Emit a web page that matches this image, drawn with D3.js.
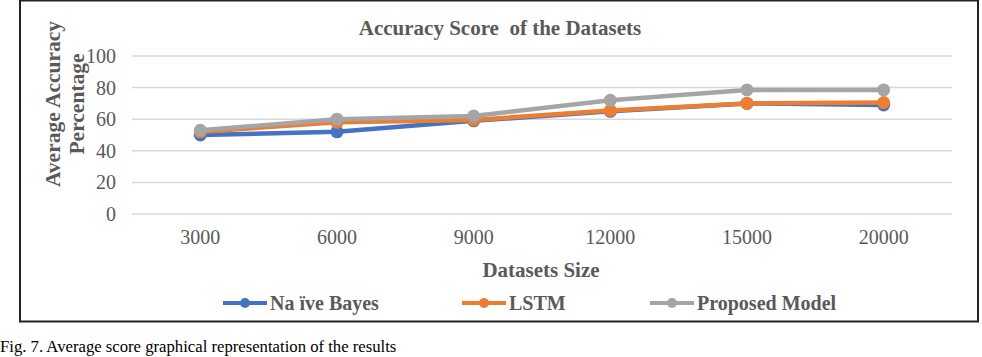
<!DOCTYPE html>
<html lang="en">
<head>
    <meta charset="UTF-8">
    <title>Accuracy Score of the Datasets</title>
    <script src="https://d3js.org/d3.v7.min.js"></script>
    <style>
        body { margin: 0; background: #fff; }
        svg { display: block; }
        svg text { font-family: "Liberation Serif", "Times New Roman", serif; }
    </style>
</head>
<body>
    <svg class="chart" width="982" height="357"></svg>
    <script>
    // 資料
    const sizes = ["3000", "6000", "9000", "12000", "15000", "20000"]
    const naiveBayes = [50, 52, 59, 65, 70, 69]
    const lstm = [52, 58, 59.5, 65.5, 70, 70.5]
    const proposed = [53, 60, 62, 72, 78.5, 78.5]
    const yTicks = [0, 20, 40, 60, 80, 100]

    const series = [
        { name: "Na ïve Bayes", values: naiveBayes, color: "#4472C4" },
        { name: "LSTM", values: lstm, color: "#ED7D31" },
        { name: "Proposed Model", values: proposed, color: "#A5A5A5" }
    ]

    const svg = d3.select('.chart')
    const textColor = "#595959"

    // 外框
    svg.append('rect')
        .attr('x', 20).attr('y', 0.5)
        .attr('width', 958).attr('height', 321)
        .attr('fill', 'none')
        .attr('stroke', '#222')
        .attr('stroke-width', 2)

    const x = d3.scaleBand().domain(sizes).range([132, 952])
    const y = d3.scaleLinear().domain([0, 100]).range([214, 56])

    // 格線
    svg.append('g')
        .selectAll('line')
        .data(yTicks)
        .enter()
        .append('line')
        .attr('x1', 132).attr('x2', 952)
        .attr('y1', d => y(d)).attr('y2', d => y(d))
        .attr('stroke', '#D9D9D9')
        .attr('stroke-width', 1.5)

    // y 軸
    const yAxis = svg.append('g')
        .attr('transform', 'translate(116,0)')
        .call(d3.axisLeft(y).tickValues(yTicks).tickSize(0).tickPadding(0))
    yAxis.select('.domain').remove()
    yAxis.selectAll('text')
        .attr('fill', textColor)
        .style('font-size', '20px')

    // x 軸
    const xAxis = svg.append('g')
        .attr('transform', 'translate(0,230)')
        .call(d3.axisBottom(x).tickSize(0).tickPadding(0))
    xAxis.select('.domain').remove()
    xAxis.selectAll('text')
        .attr('fill', textColor)
        .style('font-size', '20px')

    // 線與點
    const line = d3.line()
        .x((d, i) => x(sizes[i]) + x.bandwidth() / 2)
        .y(d => y(d))

    series.forEach(s => {
        svg.append('path')
            .datum(s.values)
            .attr('d', line)
            .attr('fill', 'none')
            .attr('stroke', s.color)
            .attr('stroke-width', 4.5)
            .attr('stroke-linejoin', 'round')
        svg.append('g')
            .selectAll('circle')
            .data(s.values)
            .enter()
            .append('circle')
            .attr('cx', (d, i) => x(sizes[i]) + x.bandwidth() / 2)
            .attr('cy', d => y(d))
            .attr('r', 6.5)
            .attr('fill', s.color)
    })

    // 標題
    svg.append('text')
        .attr('x', 500).attr('y', 35)
        .attr('text-anchor', 'middle')
        .attr('fill', textColor)
        .style('font-size', '21px')
        .style('font-weight', 'bold')
        .text('Accuracy Score\u00a0 of the Datasets')

    svg.append('text')
        .attr('x', 541).attr('y', 277)
        .attr('text-anchor', 'middle')
        .attr('fill', textColor)
        .style('font-size', '21px')
        .style('font-weight', 'bold')
        .text('Datasets Size')

    const yTitle = svg.append('text')
        .attr('transform', 'translate(65,104) rotate(-90)')
        .attr('text-anchor', 'middle')
        .attr('fill', textColor)
        .style('font-size', '21.5px')
        .style('font-weight', 'bold')
    yTitle.append('tspan').attr('x', 0).attr('y', -5).text('Average Accuracy')
    yTitle.append('tspan').attr('x', 0).attr('y', 19).text('Percentage')

    // 圖例
    const legendX = [223, 462, 650]
    const legend = svg.append('g')
        .selectAll('g')
        .data(series)
        .enter()
        .append('g')
        .attr('transform', (d, i) => `translate(${legendX[i]},303)`)
    legend.append('line')
        .attr('x1', 0).attr('x2', 44)
        .attr('stroke', d => d.color)
        .attr('stroke-width', 4)
    legend.append('circle')
        .attr('cx', 22).attr('r', 5)
        .attr('fill', d => d.color)
    legend.append('text')
        .attr('x', 47).attr('y', 7)
        .attr('fill', textColor)
        .style('font-size', '20px')
        .style('font-weight', 'bold')
        .text(d => d.name)

    // 圖說
    svg.append('text')
        .attr('x', 0).attr('y', 352)
        .attr('fill', '#000')
        .style('font-size', '16.7px')
        .text('Fig. 7. Average score graphical representation of the results')
    </script>
</body>
</html>
